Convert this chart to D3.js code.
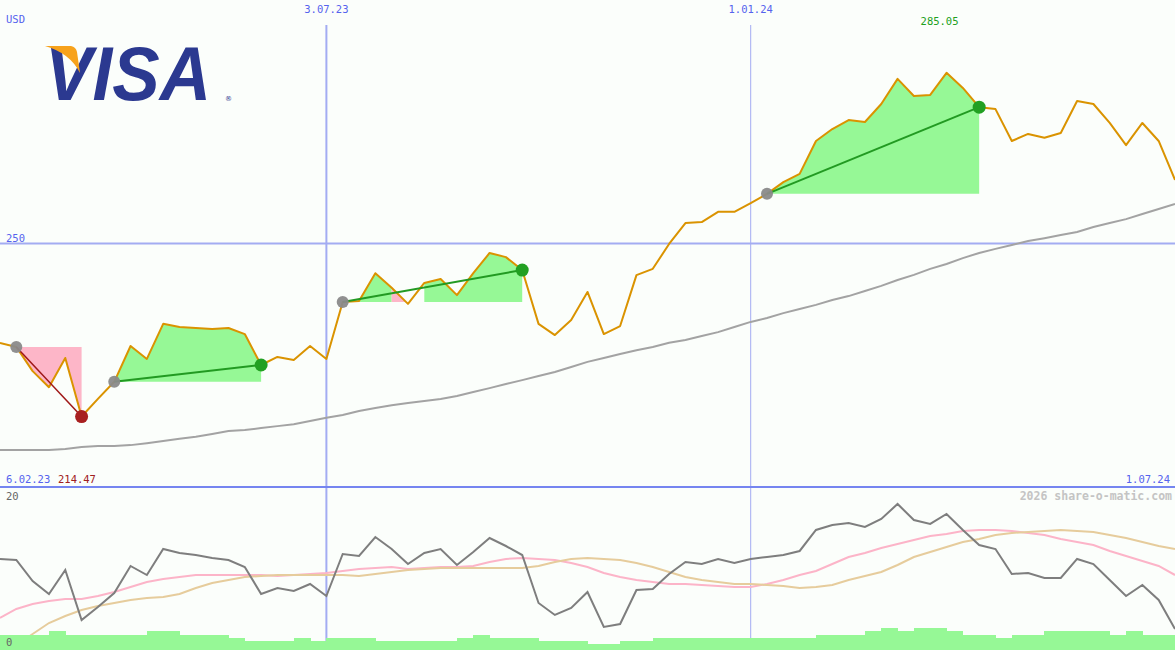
<!DOCTYPE html>
<html><head><meta charset="utf-8">
<script src="https://cdn.jsdelivr.net/npm/d3@7"></script>
<style>html,body{margin:0;padding:0;background:#fbfefb;}svg{display:block;}</style>
</head><body>
<script>
// ---- data (weekly, starting Monday 13 Feb 2023) ----
const startDate = Date.UTC(2023, 1, 13);
const endDate = Date.UTC(2024, 6, 1);
const price = [229.6,228.75,223.8,220.5,226.5,214.47,218.1,221.6,228.95,226.3,233.5,232.85,232.65,232.45,232.65,231.4,225.05,226.7,226.1,228.95,226.3,238.0,238.2,243.9,240.9,237.6,241.9,242.7,239.4,243.9,248.05,247.2,244.55,233.5,231.2,234.3,240.05,231.4,233.05,243.5,244.8,249.9,254.2,254.4,256.5,256.5,258.3,260.2,262.6,264.3,271.05,273.5,275.35,274.95,278.65,283.8,280.3,280.5,285.05,281.95,278.0,277.6,271.05,272.5,271.7,272.7,279.25,278.65,274.75,270.2,274.75,271.05,263.05];
const movingAvg = [207.6,207.6,207.6,207.6,207.8,208.2,208.4,208.4,208.6,209.0,209.45,209.9,210.3,210.9,211.5,211.7,212.1,212.5,212.9,213.55,214.2,214.8,215.6,216.2,216.8,217.25,217.65,218.05,218.7,219.5,220.3,221.15,221.95,222.8,223.6,224.65,225.7,226.5,227.3,228.1,228.75,229.6,230.2,231.0,231.8,232.85,233.9,234.7,235.7,236.55,237.4,238.4,239.2,240.25,241.3,242.5,243.55,244.8,245.8,247.0,248.05,248.9,249.7,250.5,251.1,251.75,252.35,253.4,254.2,255.0,256.05,257.1,258.1];
const trades = [
  {entry: 1, exit: 5},
  {entry: 7, exit: 16},
  {entry: 21, exit: 32},
  {entry: 47, exit: 60}
];
const oscillator = [11.27,11.14,8.48,6.84,9.87,3.54,5.19,6.96,10.38,9.24,12.53,12.03,11.77,11.39,11.14,10.25,6.84,7.59,7.22,8.10,6.58,11.90,11.65,14.05,12.53,10.63,12.03,12.53,10.51,12.15,13.92,12.91,11.77,5.70,4.18,5.06,7.09,2.66,3.04,7.34,7.47,9.37,10.89,10.63,11.27,10.76,11.27,11.52,11.77,12.28,14.94,15.57,15.82,15.32,16.33,18.23,16.20,15.70,16.96,14.94,13.04,12.53,9.37,9.49,8.86,8.86,11.27,10.63,8.61,6.58,7.97,6.08,2.41];
const oscFast = [3.80,4.94,5.57,5.95,6.20,6.20,6.58,7.09,7.72,8.35,8.73,8.99,9.24,9.24,9.24,9.24,9.24,9.11,9.24,9.37,9.49,9.75,10.0,10.13,10.25,10.0,10.13,10.25,10.25,10.38,10.89,11.27,11.39,11.27,11.14,10.76,10.25,9.49,8.99,8.61,8.35,8.10,8.10,7.97,7.85,7.72,7.72,8.10,8.61,9.24,9.75,10.63,11.52,12.03,12.66,13.16,13.67,14.18,14.43,14.81,14.94,14.94,14.81,14.56,14.30,13.80,13.42,13.04,12.28,11.65,11.01,10.38,9.24];
const oscSlow = [-1.01,0.38,1.77,3.16,4.05,4.81,5.32,5.70,6.08,6.33,6.46,6.84,7.59,8.23,8.61,8.99,9.11,9.24,9.24,9.24,9.24,9.24,9.11,9.37,9.62,9.87,10.0,10.13,10.13,10.13,10.13,10.13,10.13,10.38,10.89,11.27,11.39,11.27,11.14,10.76,10.25,9.62,8.99,8.61,8.35,8.10,8.10,7.97,7.85,7.59,7.72,7.97,8.61,9.11,9.62,10.51,11.52,12.15,12.78,13.42,13.80,14.30,14.56,14.68,14.81,14.94,14.81,14.68,14.30,13.92,13.42,12.91,12.53];
const volumeBars = [1.65,1.65,1.65,2.15,1.65,1.65,1.65,1.65,1.65,2.15,2.15,1.65,1.65,1.65,1.25,0.9,0.9,0.9,1.25,0.9,1.25,1.25,1.25,0.9,0.9,0.9,0.9,0.9,1.25,1.65,1.25,1.25,1.25,0.9,0.9,0.9,0.5,0.5,0.9,0.9,1.25,1.25,1.25,1.25,1.25,1.25,1.25,1.25,1.25,1.25,1.65,1.65,1.65,2.15,2.5,2.15,2.5,2.5,2.15,1.65,1.65,1.25,1.65,1.65,2.15,2.15,2.15,2.15,1.65,2.15,1.65,1.65];
const gridDates = [{d: Date.UTC(2023,6,3), label: "3.07.23", w: 2}, {d: Date.UTC(2024,0,1), label: "1.01.24", w: 1}];
const gridPrices = [250];
const labels = {currency: "USD", startLabel: "6.02.23", endLabel: "1.07.24", minLabel: "214.47", maxLabel: "285.05", oscTop: "20", oscBottom: "0", credit: "2026 share-o-matic.com"};

const dates = price.map((_, i) => new Date(startDate + i * 7 * 86400000));

// ---- layout ----
const W = 1175, H = 650, splitY = 487;
const svg = d3.select("body").append("svg").attr("width", W).attr("height", H);
svg.append("rect").attr("width", W).attr("height", H).attr("fill", "#fbfefb");

const x = d3.scaleUtc().domain([new Date(startDate), new Date(endDate)]).range([0, W]);
const y = d3.scaleLinear().domain([200, 300]).range([splitY, 0]);
const y2 = d3.scaleLinear().domain([0, 20]).range([648, 490]);

const mono = "'DejaVu Sans Mono', monospace";
const blue = "#5563ee";
const gridCol = "#a3acf2";

svg.append("clipPath").attr("id", "top").append("rect").attr("width", W).attr("height", splitY);
svg.append("clipPath").attr("id", "bot").append("rect").attr("y", splitY).attr("width", W).attr("height", H - splitY);

// grid lines
gridDates.forEach(g => {
  svg.append("line").attr("x1", x(new Date(g.d))).attr("x2", x(new Date(g.d)))
    .attr("y1", 25).attr("y2", H).attr("stroke", gridCol).attr("stroke-width", g.w);
  svg.append("text").attr("x", x(new Date(g.d))).attr("y", 13).attr("text-anchor", "middle")
    .attr("font-family", mono).attr("font-size", 10.5).attr("fill", blue).text(g.label);
});
gridPrices.forEach(p => {
  svg.append("line").attr("x1", 0).attr("x2", W).attr("y1", y(p)).attr("y2", y(p))
    .attr("stroke", gridCol).attr("stroke-width", 2);
  svg.append("text").attr("x", 6).attr("y", y(p) - 2).attr("font-family", mono)
    .attr("font-size", 10.5).attr("fill", blue).text(p);
});

const gTop = svg.append("g").attr("clip-path", "url(#top)");

// moving average
gTop.append("path").datum(movingAvg)
  .attr("d", d3.line().x((d, i) => x(dates[i])).y(d => y(d)))
  .attr("fill", "none").attr("stroke", "#a3a3a3").attr("stroke-width", 2);

// trade fills (contiguous runs of same colour merged into one area)
trades.forEach(t => {
  const E = price[t.entry];
  const runs = [];
  for (let i = t.entry; i < t.exit; i++) {
    const a = price[i] - E, b = price[i + 1] - E;
    let col = null;
    if (b < 0) col = "#fdb6c8";
    else if (a >= 0) col = "#96f896";
    const last = runs[runs.length - 1];
    if (col && last && last.col === col && last.end === i) last.end = i + 1;
    else if (col) runs.push({col, start: i, end: i + 1});
  }
  runs.forEach(r => {
    gTop.append("path").datum(d3.range(r.start, r.end + 1))
      .attr("d", d3.area().x(k => x(dates[k])).y0(y(E)).y1(k => y(price[k])))
      .attr("fill", r.col);
  });
});

// price line
gTop.append("path").datum(price)
  .attr("d", d3.line().x((d, i) => x(dates[i])).y(d => y(d)))
  .attr("fill", "none").attr("stroke", "#da9300").attr("stroke-width", 2).attr("stroke-linejoin", "round");

// trade lines and dots
trades.forEach(t => {
  const win = price[t.exit] > price[t.entry];
  gTop.append("line").attr("x1", x(dates[t.entry])).attr("y1", y(price[t.entry]))
    .attr("x2", x(dates[t.exit])).attr("y2", y(price[t.exit]))
    .attr("stroke", win ? "#229a22" : "#a01818").attr("stroke-width", win ? 2 : 1.5);
  gTop.append("circle").attr("cx", x(dates[t.entry])).attr("cy", y(price[t.entry])).attr("r", 6)
    .attr("fill", "#8a8a8a").attr("fill-opacity", 0.95);
  gTop.append("circle").attr("cx", x(dates[t.exit])).attr("cy", y(price[t.exit])).attr("r", 6.5)
    .attr("fill", win ? "#22a022" : "#a82020");
});

// logo
const logo = svg.append("g");
logo.append("text").attr("x", 45).attr("y", 100).attr("font-family", "'Liberation Sans', Arial, sans-serif")
  .attr("font-weight", "bold").attr("font-style", "italic").attr("font-size", 76)
  .attr("textLength", 166).attr("lengthAdjust", "spacingAndGlyphs").attr("fill", "#2b3990").text("VISA");
logo.append("path").attr("d", "M45,46 L71,46 Q76,47 77,52 L80,73 Q70,53 45,46 Z").attr("fill", "#f7a21b");
logo.append("text").attr("x", 225).attr("y", 101).attr("font-family", "'DejaVu Sans', sans-serif")
  .attr("font-size", 7).attr("fill", "#2b3990").text("®");

// top labels
svg.append("text").attr("x", 6).attr("y", 23).attr("font-family", mono).attr("font-size", 10.5).attr("fill", blue).text(labels.currency);
const iMax = d3.maxIndex(price);
svg.append("text").attr("x", x(dates[iMax]) + 12).attr("y", 25).attr("text-anchor", "end")
  .attr("font-family", mono).attr("font-size", 10.5).attr("fill", "#20a020").text(labels.maxLabel);
svg.append("text").attr("x", 6).attr("y", 483).attr("font-family", mono).attr("font-size", 10.5).attr("fill", blue).text(labels.startLabel);
svg.append("text").attr("x", 58).attr("y", 483).attr("font-family", mono).attr("font-size", 10.5).attr("fill", "#a02020").text(labels.minLabel);
svg.append("text").attr("x", 1170).attr("y", 483).attr("text-anchor", "end").attr("font-family", mono).attr("font-size", 10.5).attr("fill", blue).text(labels.endLabel);

// separator
svg.append("line").attr("x1", 0).attr("x2", W).attr("y1", splitY).attr("y2", splitY)
  .attr("stroke", "#7585f0").attr("stroke-width", 2);

// lower panel
const gBot = svg.append("g").attr("clip-path", "url(#bot)");
const lineLow = d3.line().x((d, i) => x(dates[i])).y(d => y2(d));
gBot.append("path").datum(oscFast).attr("d", lineLow).attr("fill", "none").attr("stroke", "#fcb4c8").attr("stroke-width", 2);
gBot.append("path").datum(oscSlow).attr("d", lineLow).attr("fill", "none").attr("stroke", "#e6cc9c").attr("stroke-width", 2);
gBot.append("path").datum(oscillator).attr("d", lineLow).attr("fill", "none").attr("stroke", "#7e7e7e").attr("stroke-width", 2);
gBot.selectAll("rect.vol").data(volumeBars).join("rect").attr("class", "vol")
  .attr("x", (d, i) => x(dates[i])).attr("width", (d, i) => x(dates[i + 1]) - x(dates[i]) + 0.5)
  .attr("y", d => y2(d)).attr("height", d => H - y2(d)).attr("fill", "#96f896")
  .attr("shape-rendering", "crispEdges");

svg.append("text").attr("x", 6).attr("y", 500).attr("font-family", mono).attr("font-size", 10.5).attr("fill", "#666").text(labels.oscTop);
svg.append("text").attr("x", 6).attr("y", 646).attr("font-family", mono).attr("font-size", 10.5).attr("fill", "#666").text(labels.oscBottom);
svg.append("text").attr("x", 1172).attr("y", 500).attr("text-anchor", "end").attr("font-family", mono)
  .attr("font-weight", "bold").attr("font-size", 11.5).attr("fill", "#c4c4c4").text(labels.credit);
</script>
</body></html>
